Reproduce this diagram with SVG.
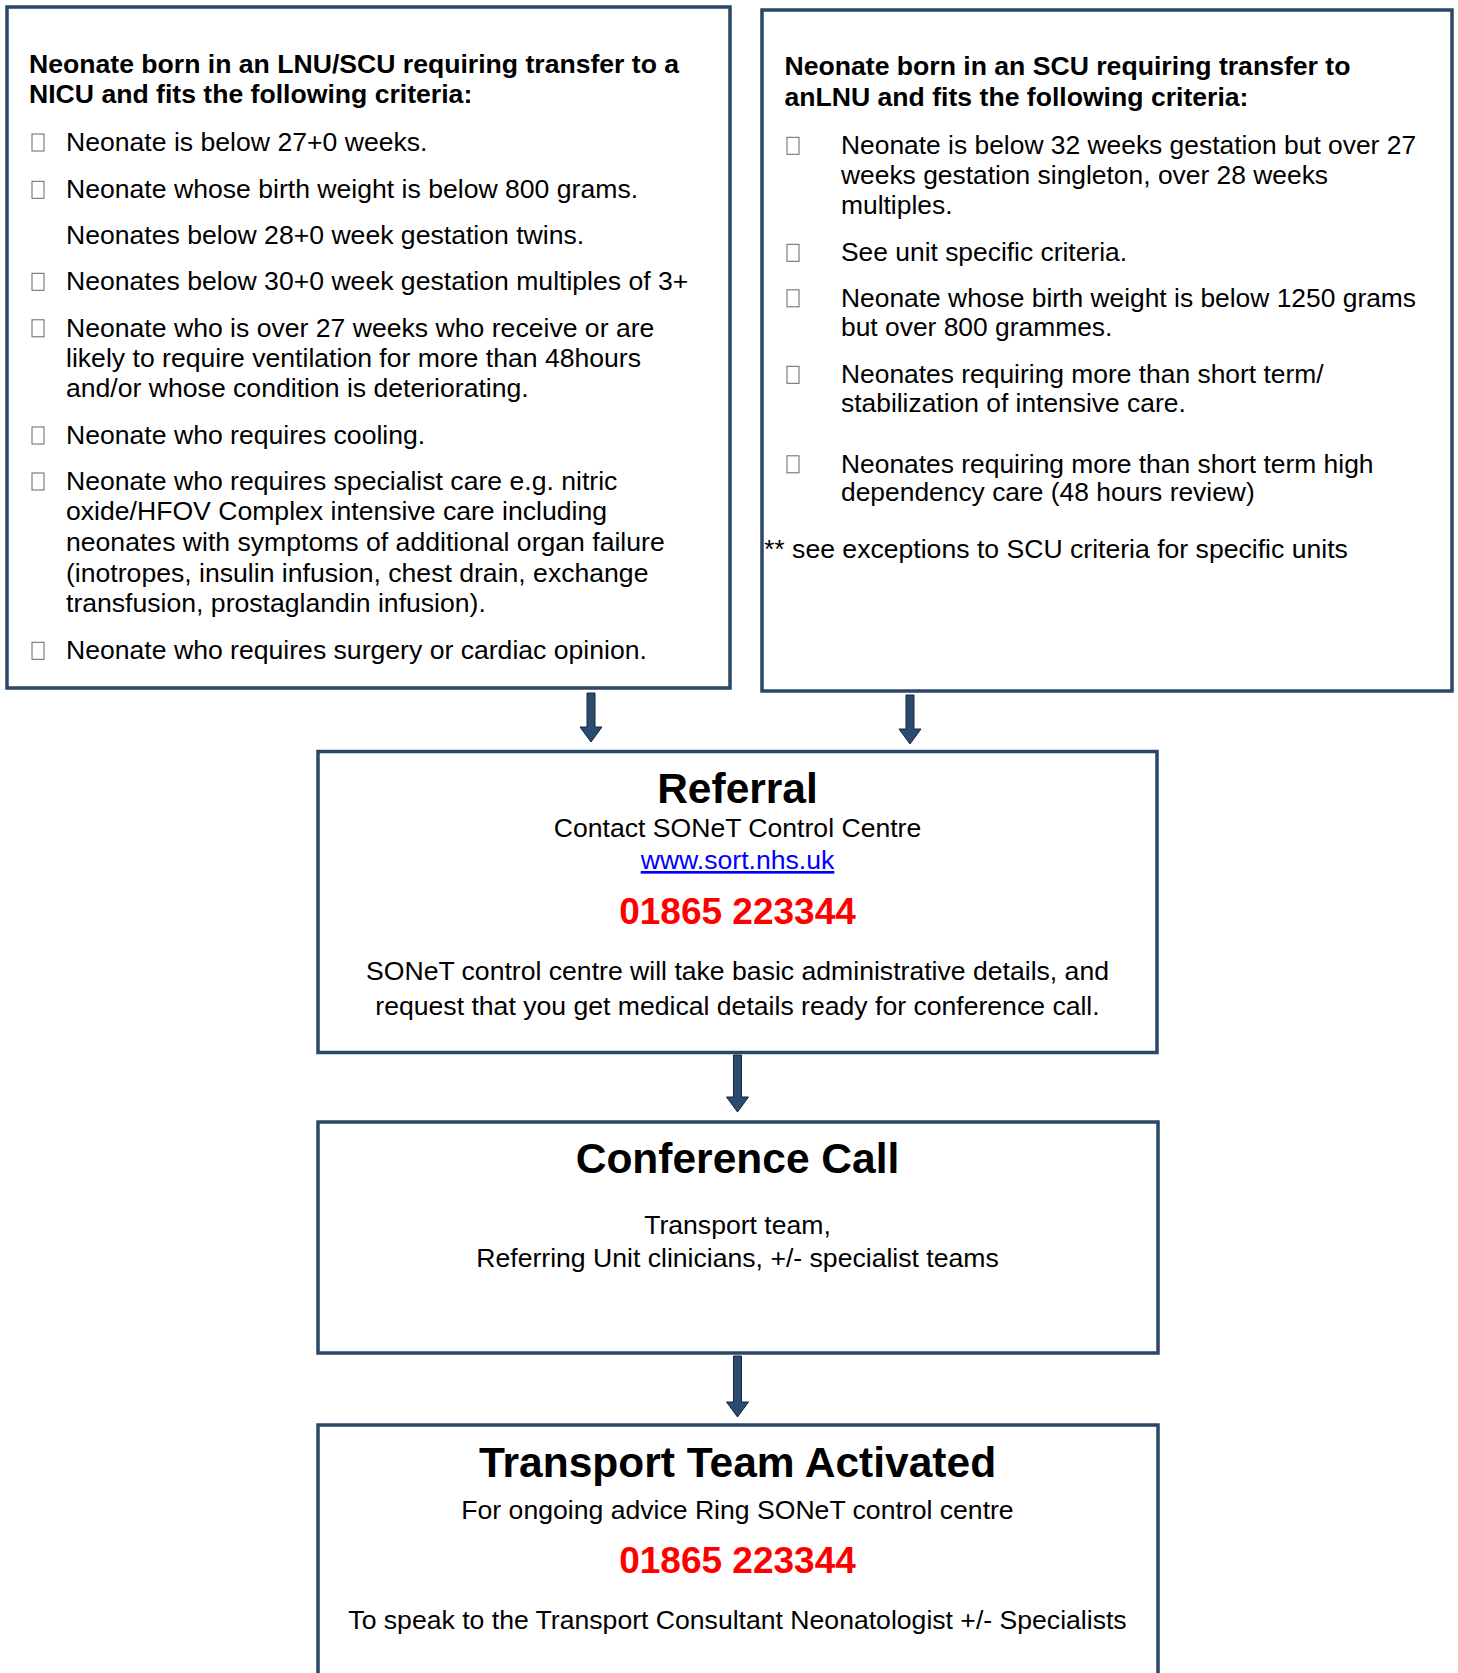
<svg xmlns="http://www.w3.org/2000/svg" width="1458" height="1673" viewBox="0 0 1458 1673">
<style>
text{font-family:"Liberation Sans",Arial,sans-serif;fill:#000}
.b{font-size:26.6px}
.r{font-size:26.4px}
.h{font-size:26.6px;font-weight:bold}
.t{font-size:42.5px;font-weight:bold;text-anchor:middle}
.c{font-size:26.6px;text-anchor:middle}
.p{font-size:37px;font-weight:bold;fill:#FF0000;text-anchor:middle}
.link{fill:#0000FF;text-decoration:underline}
.box{fill:#fff;stroke:#2B4767;stroke-width:3.5}
.bul{fill:none;stroke:#666;stroke-width:1}
.arr{fill:#2B4A6F;stroke:#17263A;stroke-width:1}
</style>
<defs>
<rect id="bx" width="12" height="17" class="bul"/>
</defs>
<rect width="1458" height="1673" fill="#fff"/>

<g id="left-criteria">
<rect class="box" x="7" y="7" width="723" height="681"/>
<text class="h" x="29" y="72.5">Neonate born in an LNU/SCU requiring transfer to a</text>
<text class="h" x="29" y="103">NICU and fits the following criteria:</text>
<use href="#bx" x="32" y="134"/>
<text class="b" x="66" y="150.7">Neonate is below 27+0 weeks.</text>
<use href="#bx" x="32" y="181.3"/>
<text class="b" x="66" y="198">Neonate whose birth weight is below 800 grams.</text>
<text class="b" x="66" y="244">Neonates below 28+0 week gestation twins.</text>
<use href="#bx" x="32" y="273.3"/>
<text class="b" x="66" y="290">Neonates below 30+0 week gestation multiples of 3+</text>
<use href="#bx" x="32" y="319.8"/>
<text class="b" x="66" y="336.5">Neonate who is over 27 weeks who receive or are</text>
<text class="b" x="66" y="367">likely to require ventilation for more than 48hours</text>
<text class="b" x="66" y="397.3">and/or whose condition is deteriorating.</text>
<use href="#bx" x="32" y="427"/>
<text class="b" x="66" y="443.7">Neonate who requires cooling.</text>
<use href="#bx" x="32" y="473"/>
<text class="b" x="66" y="489.7">Neonate who requires specialist care e.g. nitric</text>
<text class="b" x="66" y="520.3">oxide/HFOV Complex intensive care including</text>
<text class="b" x="66" y="551">neonates with symptoms of additional organ failure</text>
<text class="b" x="66" y="581.8">(inotropes, insulin infusion, chest drain, exchange</text>
<text class="b" x="66" y="612.3">transfusion, prostaglandin infusion).</text>
<use href="#bx" x="32" y="642.3"/>
<text class="b" x="66" y="659">Neonate who requires surgery or cardiac opinion.</text>
</g>

<g id="right-criteria">
<rect class="box" x="762" y="10" width="690" height="681"/>
<text class="h" x="784.5" y="75">Neonate born in an SCU requiring transfer to</text>
<text class="h" x="784.5" y="105.5">anLNU and fits the following criteria:</text>
<use href="#bx" x="787" y="137.3"/>
<text class="r" x="841" y="154">Neonate is below 32 weeks gestation but over 27</text>
<text class="r" x="841" y="183.5">weeks gestation singleton, over 28 weeks</text>
<text class="r" x="841" y="214">multiples.</text>
<use href="#bx" x="787" y="244.3"/>
<text class="r" x="841" y="261">See unit specific criteria.</text>
<use href="#bx" x="787" y="289.8"/>
<text class="r" x="841" y="306.5">Neonate whose birth weight is below 1250 grams</text>
<text class="r" x="841" y="336">but over 800 grammes.</text>
<use href="#bx" x="787" y="366.3"/>
<text class="r" x="841" y="383">Neonates requiring more than short term/</text>
<text class="r" x="841" y="411.5">stabilization of intensive care.</text>
<use href="#bx" x="787" y="455.8"/>
<text class="r" x="841" y="472.5">Neonates requiring more than short term high</text>
<text class="r" x="841" y="500.5">dependency care (48 hours review)</text>
<text class="b" x="764" y="557.5">** see exceptions to SCU criteria for specific units</text>
</g>

<g id="referral">
<rect class="box" x="318" y="751.5" width="839" height="301"/>
<text class="t" x="737.5" y="803">Referral</text>
<text class="c" x="737.5" y="836.5">Contact SONeT Control Centre</text>
<text class="c link" x="737.5" y="869">www.sort.nhs.uk</text>
<text class="p" x="737.5" y="923.5">01865 223344</text>
<text class="c" x="737.5" y="980">SONeT control centre will take basic administrative details, and</text>
<text class="c" x="737.5" y="1014.5">request that you get medical details ready for conference call.</text>
</g>

<g id="conference-call">
<rect class="box" x="318" y="1122" width="840" height="231"/>
<text class="t" x="737.5" y="1172.5">Conference Call</text>
<text class="c" x="737.5" y="1233.5">Transport team,</text>
<text class="c" x="737.5" y="1267">Referring Unit clinicians, +/- specialist teams</text>
</g>

<g id="transport-team">
<rect class="box" x="318" y="1425" width="840" height="300"/>
<text class="t" x="737.5" y="1477">Transport Team Activated</text>
<text class="c" x="737.5" y="1519">For ongoing advice Ring SONeT control centre</text>
<text class="p" x="737.5" y="1572.5">01865 223344</text>
<text class="c" x="737.5" y="1629">To speak to the Transport Consultant Neonatologist +/- Specialists</text>
</g>

<g id="connectors">
<path class="arr" d="M587,693 H595 V727 H602 L591,742 L580,727 H587 Z"/>
<path class="arr" d="M906,695 H914 V729 H921 L910,744 L899,729 H906 Z"/>
<path class="arr" d="M733.5,1055 H741.5 V1097 H748.5 L737.5,1112 L726.5,1097 H733.5 Z"/>
<path class="arr" d="M733.5,1356 H741.5 V1402 H748.5 L737.5,1417 L726.5,1402 H733.5 Z"/>
</g>
</svg>
